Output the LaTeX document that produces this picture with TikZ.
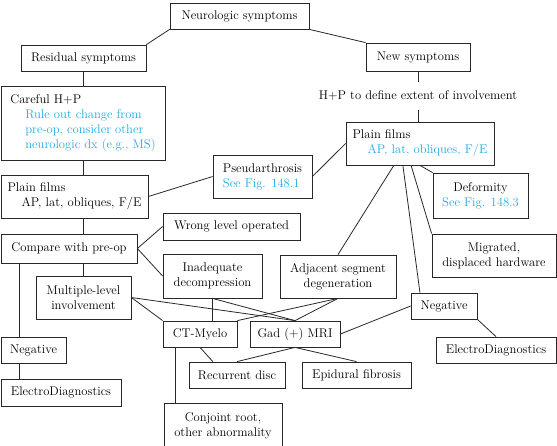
\documentclass[tikz,border=0pt]{standalone}
\usetikzlibrary{calc}
\definecolor{sky}{RGB}{30,170,230}
\definecolor{ink}{RGB}{40,40,40}
\begin{document}
\begin{tikzpicture}[x=1pt,y=-1pt,
  font=\fontsize{12.6}{15}\selectfont,
  box/.style={draw=ink, line width=0.8pt, inner sep=1pt, align=center, text=black},
  ln/.style={draw=ink, line width=0.8pt}]
\useasboundingbox (0,0) rectangle (557,445);
\clip (0,0) rectangle (557,445);
% nodes
\node[box, minimum width=139, minimum height=26] (neuro) at (239.5,16) {Neurologic symptoms};
\node[box, minimum width=125, minimum height=26] (resid) at (83.5,58) {Residual symptoms};
\node[box, minimum width=104, minimum height=28] (newsym) at (418,57) {New symptoms};
\node[box, minimum width=164, minimum height=74, align=left] (careful) at (83,123)
  {Careful H+P\\\hspace*{15pt}\textcolor{sky}{Rule out change from}\\\hspace*{15pt}\textcolor{sky}{pre-op, consider other}\\\hspace*{15pt}\textcolor{sky}{neurologic dx (e.g., MS)}};
\node[box, minimum width=147, minimum height=43, align=left] (plainL) at (74.5,196.5)
  {Plain films\\\hspace*{14pt}AP, lat, obliques, F/E};
\node[box, minimum width=99, minimum height=43, align=left] (pseudo) at (262.5,176.5)
  {Pseudarthrosis\\\textcolor{sky}{See Fig. 148.1}};
\node[minimum height=28, inner sep=0pt] (hp) at (418,96) {H+P to define extent of involvement};
\node[box, minimum width=148, minimum height=43, align=left] (plainR) at (420,143.5)
  {Plain films\\\hspace*{15pt}\textcolor{sky}{AP, lat, obliques, F/E}};
\node[box, minimum width=95, minimum height=45] (deform) at (480.5,195.5)
  {Deformity\\\textcolor{sky}{See Fig. 148.3}};
\node[box, minimum width=124, minimum height=43] (migr) at (494,255.5)
  {Migrated,\\displaced hardware};
\node[box, minimum width=116, minimum height=43] (adj) at (338,276.5)
  {Adjacent segment\\degeneration};
\node[box, minimum width=66, minimum height=26] (negR) at (444,306) {Negative};
\node[box, minimum width=120, minimum height=26] (edR) at (496,350) {ElectroDiagnostics};
\node[box, minimum width=136, minimum height=29] (compare) at (69,248.5) {Compare with pre-op};
\node[box, minimum width=137, minimum height=27] (wrong) at (231.5,226.5) {Wrong level operated};
\node[box, minimum width=99, minimum height=44] (inadeq) at (212.5,276) {Inadequate\\decompression};
\node[box, minimum width=95, minimum height=43] (multi) at (83.5,297.5) {Multiple-level\\involvement};
\node[box, minimum width=65, minimum height=26] (negL) at (33.5,350) {Negative};
\node[box, minimum width=120, minimum height=27] (edL) at (61,392.5) {ElectroDiagnostics};
\node[box, minimum width=74, minimum height=26] (ct) at (200,334) {CT-Myelo};
\node[box, minimum width=90, minimum height=26] (gad) at (295,334) {Gad (+) MRI};
\node[box, minimum width=96, minimum height=26] (recur) at (237,375) {Recurrent disc};
\node[box, minimum width=109, minimum height=26] (epid) at (356.5,375) {Epidural fibrosis};
\node[box, minimum width=118, minimum height=45] (conj) at (223,425.5) {Conjoint root,\\other abnormality};
% helper coordinates
\coordinate (pL) at ($(negL.north west)!0.29!(negL.north east)$);
\coordinate (pr1) at ($(plainR.south west)!0.324!(plainR.south east)$);
\coordinate (pr2) at ($(plainR.south west)!0.385!(plainR.south east)$);
\coordinate (pr3) at ($(plainR.south west)!0.44!(plainR.south east)$);
\coordinate (nr) at ($(negR.north west)!0.14!(negR.north east)$);
\coordinate (rc) at ($(recur.north west)!0.25!(recur.north east)$);
\coordinate (cc) at ($(ct.south west)!0.176!(ct.south east)$);
% connectors
\draw[ln] (neuro.south west) -- (resid.north east);
\draw[ln] (neuro.south east) -- (newsym.north west);
\draw[ln] (resid.south) -- (resid.south |- careful.north);
\draw[ln] (careful.south) -- (careful.south |- plainL.north);
\draw[ln] (careful.south |- plainL.south) -- (careful.south |- compare.north);
\draw[ln] (plainL.east) -- (pseudo.west);
\draw[ln] (pseudo.east) -- (plainR.west);
\draw[ln] (newsym.south) -- (hp.north);
\draw[ln] (hp.south) -- (hp.south |- plainR.north);
\draw[ln] (plainR.south) -- (deform.north west);
\draw[ln] (pr1) -- (adj.north);
\draw[ln] (pr2) -- (nr);
\draw[ln] (pr3) -- (migr.north west);
\draw[ln] (compare.east) -- (wrong.west);
\draw[ln] (compare.east) -- (inadeq.west);
\draw[ln] (pL) -- (pL |- compare.south);
\draw[ln] (pL |- negL.south) -- (pL |- edL.north);
\draw[ln] (multi.north) -- (multi.north |- compare.south);
\draw[ln] (multi.east) -- (ct.north west);
\draw[ln] (multi.east) -- (gad.north);
\draw[ln] (inadeq.south) -- (inadeq.south |- ct.north);
\draw[ln] (inadeq.south) -- (gad.north);
\draw[ln] (adj.south) -- (gad.north);
\draw[ln] (adj.south) -- (ct.north east);
\draw[ln] (negR.west) -- (gad.east);
\draw[ln] (negR.south east) -- (edR.north);
\draw[ln] (ct.south) -- (rc);
\draw[ln] (cc) -- (cc |- conj.north);
\draw[ln] (gad.south) -- (recur.north);
\draw[ln] (gad.south) -- (epid.north);
\end{tikzpicture}
\end{document}
